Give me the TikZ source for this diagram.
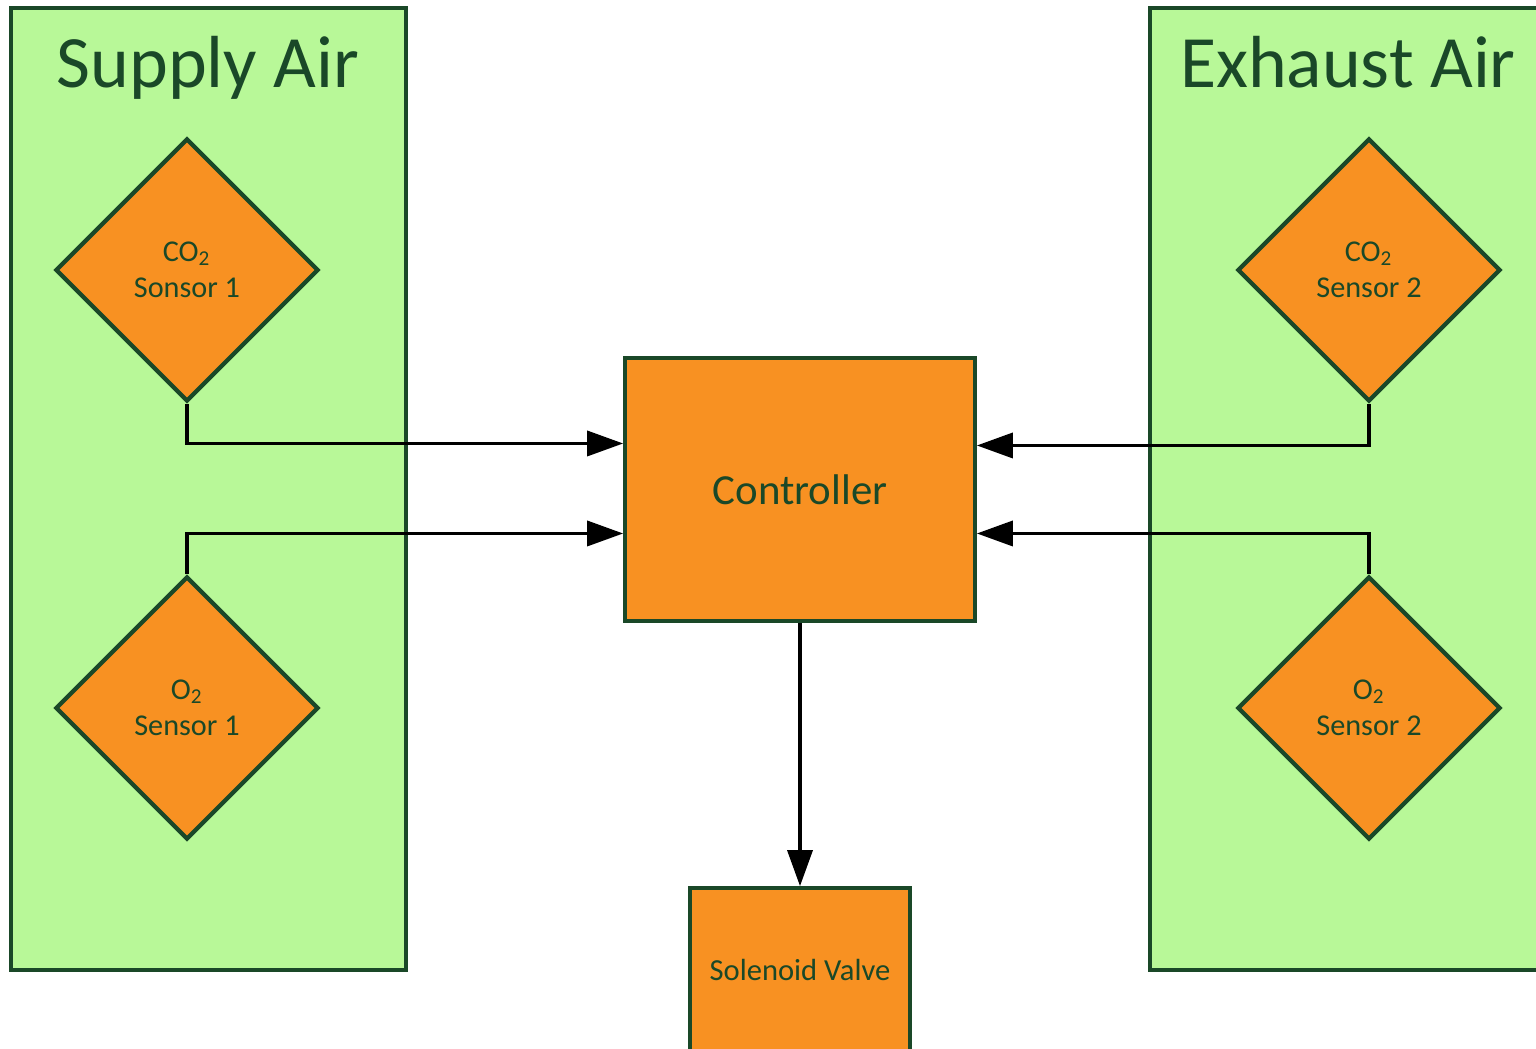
\documentclass[tikz,border=0pt]{standalone}
\usepackage{fontspec}
\setmainfont{Carlito}
\usepackage{tikz}
\usetikzlibrary{shapes.geometric,arrows.meta}
\definecolor{airgreen}{RGB}{184,248,152}
\definecolor{darkline}{RGB}{26,72,40}
\definecolor{unitorange}{RGB}{248,145,34}

\begin{document}
\begin{tikzpicture}[
  panel/.style = {draw=darkline, fill=airgreen, line width=1.05pt, minimum width=3.95cm, minimum height=9.62cm},
  title/.style = {text=darkline, font=\fontsize{21}{25}\selectfont, anchor=base},
  sensor/.style = {draw=darkline, fill=unitorange, line width=1.2pt, diamond, minimum width=2.63cm, minimum height=2.63cm, inner sep=0pt, align=center, text=darkline, font=\fontsize{8.6}{10.2}\selectfont},
  unit/.style = {draw=darkline, fill=unitorange, line width=1.05pt, text=darkline},
  signal/.style = {draw=black, line width=1pt, -{Triangle[length=3.6mm, width=2.5mm]}}]
	\useasboundingbox (0,0) rectangle (15.36,10.49);
	\node[panel] (supply) at (2.085, 5.60){};
	\node[panel] (exhaust) at (13.475, 5.60){};
	\node[title] (supplyt) at (2.08, 9.61){Supply Air};
	\node[title] (exhaustt) at (13.48, 9.61){Exhaust Air};
	\node[sensor] (co2a) at (1.87, 7.79){CO\textsubscript{2}\\Sonsor 1};
	\node[sensor] (o2a) at (1.87, 3.41){O\textsubscript{2}\\Sensor 1};
	\node[sensor] (co2b) at (13.69, 7.79){CO\textsubscript{2}\\Sensor 2};
	\node[sensor] (o2b) at (13.69, 3.41){O\textsubscript{2}\\Sensor 2};
	\node[unit, minimum width=3.50cm, minimum height=2.63cm, font=\fontsize{12.2}{14}\selectfont] (ctrl) at (8.00, 5.595){Controller};
	\node[unit, minimum width=2.20cm, minimum height=1.64cm, font=\fontsize{8.7}{10.4}\selectfont] (valve) at (8.00, 0.79){Solenoid Valve};
	\draw[signal] (co2a.south) |- ([yshift=4.6mm]ctrl.west);
	\draw[signal] (o2a.north) |- ([yshift=-4.4mm]ctrl.west);
	\draw[signal] (co2b.south) |- ([yshift=4.4mm]ctrl.east);
	\draw[signal] (o2b.north) |- ([yshift=-4.4mm]ctrl.east);
	\draw[signal] (ctrl.south) -- (valve.north);
\end{tikzpicture}
\end{document}
